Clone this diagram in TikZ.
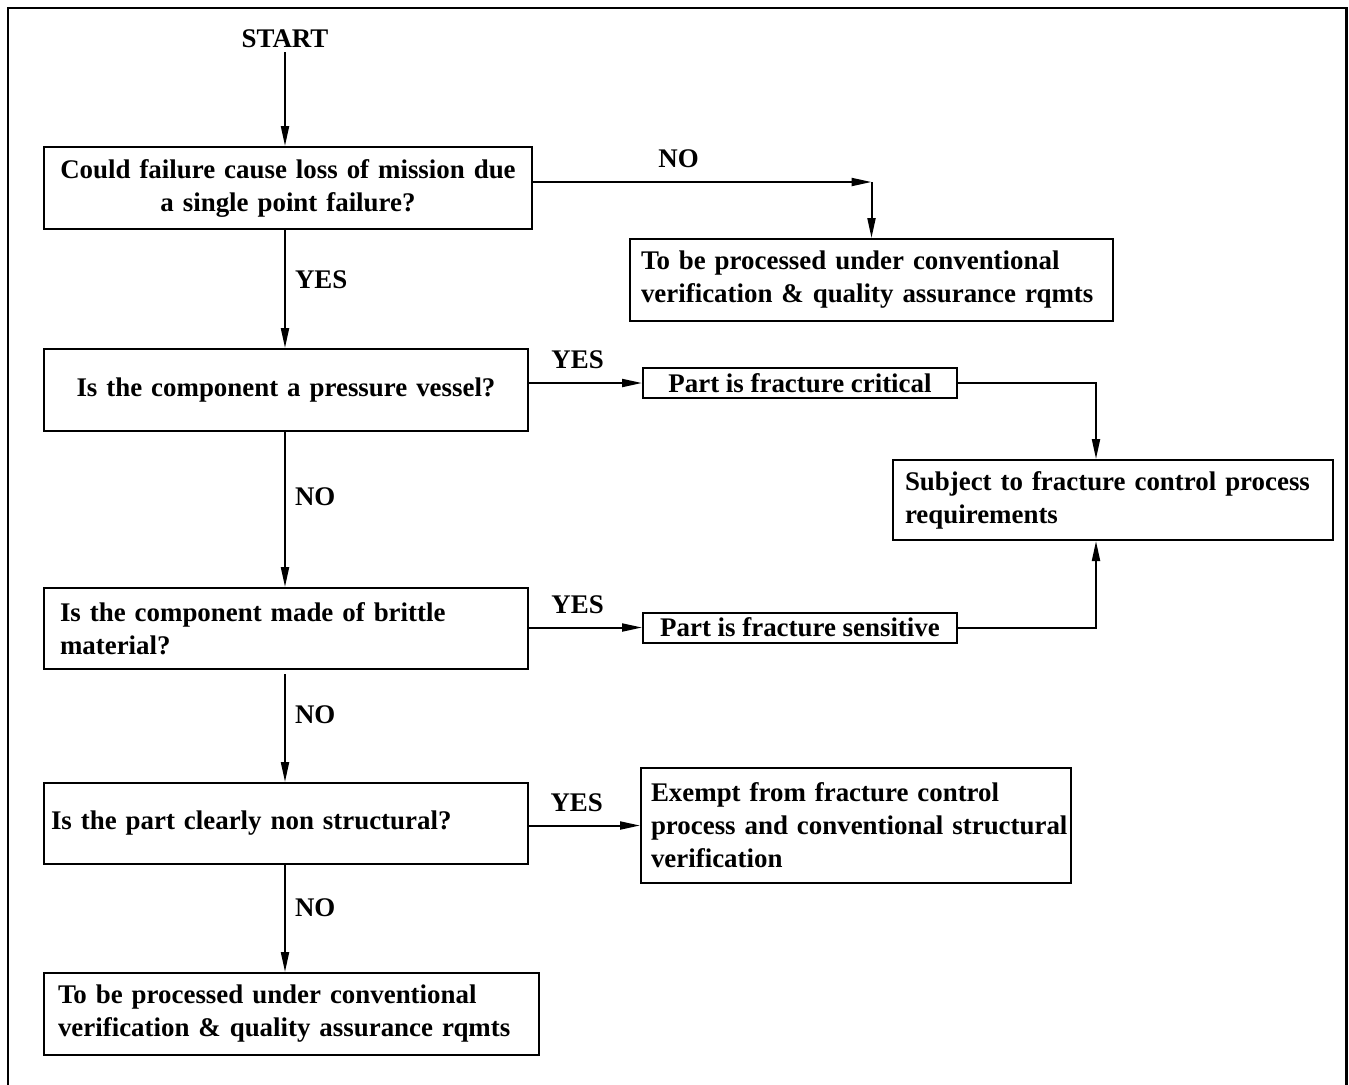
\documentclass[tikz,border=0pt]{standalone}
\usepackage{fontspec}
\setmainfont{Liberation Serif}
\usepackage{tikz}
\usetikzlibrary{arrows.meta, positioning, calc}

\newcommand{\flowfont}{\fontsize{13.45pt}{16.5pt}\selectfont\bfseries}

\begin{document}
\begin{tikzpicture}[
    node distance=60pt and 50pt,
    box/.style={rectangle, draw, line width=1pt, inner ysep=0pt, font=\flowfont},
    arrow/.style={-{Triangle[length=10pt, width=4pt]}, line width=1pt},
    answer/.style={font=\flowfont, inner sep=2pt}
]
\useasboundingbox (0,0) rectangle (674.5pt,-542pt);
\draw[line width=1.2pt] (4pt,-545pt) |- (673.2pt,-4pt) -- (673.2pt,-545pt);

% left column of questions
\node[box, anchor=north west, text width=236pt, inner xsep=4pt, minimum height=41pt, align=center]
  (failure) at (21.5pt,-73pt) {Could failure cause loss of mission due\\a single point failure?};
\node[answer, above=47pt of failure, xshift=-1.5pt] (start) {START};
\node[box, below=59pt of failure.south west, anchor=north west, text width=234pt, inner xsep=4pt, minimum height=41pt, align=center]
  (vessel) {Is the component a pressure vessel?};
\node[box, below=77.5pt of vessel.south west, anchor=north west, text width=226pt, inner xsep=8pt, minimum height=40.5pt, align=left]
  (brittle) {Is the component made of brittle\\material?};
\node[box, below=56pt of brittle.south west, anchor=north west, text width=235pt, inner xsep=3.5pt, minimum height=40.5pt, align=left]
  (nonstruct) {Is the part clearly non structural?};
\node[box, below=53.5pt of nonstruct.south west, anchor=north west, text width=233.5pt, inner xsep=7pt, minimum height=41pt, align=left]
  (convbottom) {To be processed under conventional\\verification \& quality assurance rqmts};

% right column
\node[box, below right=46pt and 48pt of failure.north east, text width=230.5pt, inner xsep=5.5pt, minimum height=41pt, align=left]
  (convtop) {To be processed under conventional\\verification \& quality assurance rqmts};
\node[box, right=56.5pt of vessel, yshift=3.5pt, minimum width=157pt, minimum height=15pt, inner xsep=0pt]
  (critical) {Part is fracture critical};
\node[box, right=56.5pt of brittle, yshift=0.5pt, minimum width=157pt, minimum height=15pt, inner xsep=0pt]
  (sensitive) {Part is fracture sensitive};
\node[box, below right=30pt and 125pt of critical.south west, text width=208pt, inner xsep=6pt, minimum height=40pt, align=left]
  (subject) {Subject to fracture control process\\requirements};
\node[box, right=55.5pt of nonstruct, yshift=-1pt, text width=205pt, inner xsep=5pt, minimum height=57.5pt, align=left]
  (exempt) {Exempt from fracture control\\\mbox{process and conventional structural}\\verification};

\coordinate (bend) at ([yshift=3pt]failure.east -| convtop.north);

\draw[arrow] (start.south) -- (start.south |- failure.north);
\draw[arrow] ([yshift=3pt]failure.east) -- node[answer, above=4.5pt, pos=0.43] {NO} (bend);
\draw[arrow] (bend) -- (convtop.north);
\draw[arrow] (failure.south -| start) -- node[answer, right=2.5pt, pos=0.42] {YES} (vessel.north -| start);
\draw[arrow] (vessel.east |- critical.west) -- node[answer, above=4.5pt, pos=0.43] {YES} (critical.west);
\draw[arrow] (critical.east) -| ([xshift=-8.5pt]subject.north);
\draw[arrow] (vessel.south -| start) -- node[answer, right=2.5pt, pos=0.42] {NO} (brittle.north -| start);
\draw[arrow] (brittle.east |- sensitive.west) -- node[answer, above=4.5pt, pos=0.43] {YES} (sensitive.west);
\draw[arrow] (sensitive.east) -| ([xshift=-8.5pt]subject.south);
\draw[arrow, shorten <=2pt] (brittle.south -| start) -- node[answer, right=2.5pt, pos=0.4] {NO} (nonstruct.north -| start);
\draw[arrow] (nonstruct.east |- exempt.west) -- node[answer, above=4.5pt, pos=0.43] {YES} (exempt.west);
\draw[arrow] (nonstruct.south -| start) -- node[answer, right=2.5pt, pos=0.4] {NO} (convbottom.north -| start);

\end{tikzpicture}
\end{document}
